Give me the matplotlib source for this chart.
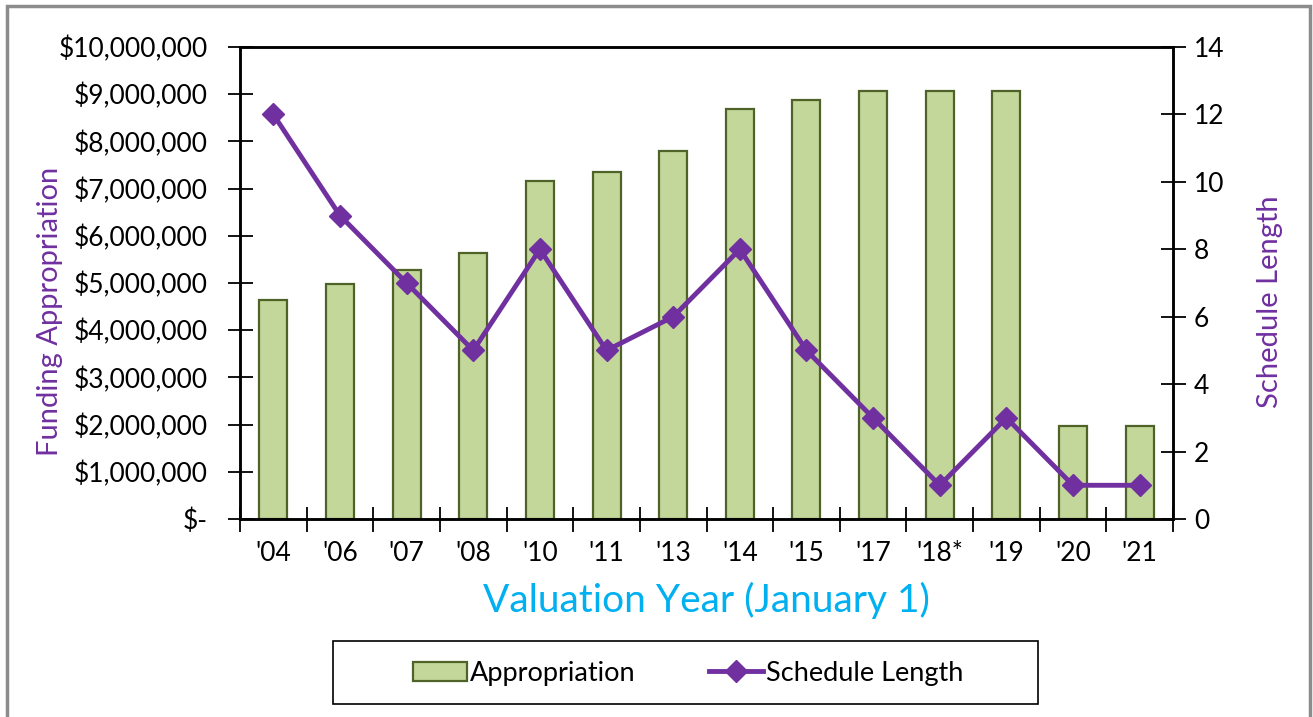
import matplotlib
matplotlib.use("Agg")
import matplotlib.pyplot as plt
from matplotlib.patches import Rectangle
from matplotlib.ticker import FuncFormatter, MultipleLocator

# Data
years = ["'04", "'06", "'07", "'08", "'10", "'11", "'13", "'14", "'15", "'17", "'18*", "'19", "'20", "'21"]
appropriation = [4640000, 4980000, 5270000, 5640000, 7160000, 7350000, 7800000,
                 8690000, 8880000, 9060000, 9060000, 9060000, 1970000, 1970000]
schedule_length = [12, 9, 7, 5, 8, 5, 6, 8, 5, 3, 1, 3, 1, 1]

purple = "#7030A0"
bar_fill = "#C4D79B"
bar_edge = "#4F6228"

plt.rcParams["font.family"] = ["Lato", "DejaVu Sans"]

fig = plt.figure(figsize=(13.13, 7.17), dpi=100)
ax = fig.add_axes([240 / 1313, 1 - 519 / 717, (1173 - 240) / 1313, (519 - 47) / 717])

x = list(range(len(years)))
bars = ax.bar(x, appropriation, width=0.42, color=bar_fill, edgecolor=bar_edge,
              linewidth=1.6, label="Appropriation", zorder=2)
ax.set_xlim(-0.5, len(years) - 0.5)
ax.set_ylim(0, 10000000)
ax.yaxis.set_major_locator(MultipleLocator(1000000))


def money(v, pos):
    if v == 0:
        return "$-"
    return "${:,.0f}".format(v)


ax.yaxis.set_major_formatter(FuncFormatter(money))
ax.set_xticks(x)
ax.set_xticklabels(years)
ax.set_xticks([i + 0.5 for i in range(-1, len(years))], minor=True)
ax.tick_params(axis="x", which="major", length=0, labelsize=19, pad=16)
ax.tick_params(axis="x", which="minor", direction="inout", length=18, width=1.3)
ax.tick_params(axis="y", direction="inout", length=18, width=1.3, labelsize=19, pad=14)
for s in ax.spines.values():
    s.set_linewidth(1.8)

ax.set_ylabel("Funding Appropriation", color=purple, fontsize=21)
ax.yaxis.set_label_coords(-0.19, 0.44)
ax.set_xlabel("Valuation Year (January 1)", color="#00B0F0", fontsize=28, labelpad=11)

ax2 = ax.twinx()
line, = ax2.plot(x, schedule_length, color=purple, linewidth=3.5, marker="D",
                 markersize=11, label="Schedule Length", zorder=3)
ax2.set_ylim(0, 14)
ax2.yaxis.set_major_locator(MultipleLocator(2))
ax2.tick_params(axis="y", direction="inout", length=18, width=1.3, labelsize=19, pad=6)
ax2.set_ylabel("Schedule Length", color=purple, fontsize=21)
ax2.yaxis.set_label_coords(1.09, 0.46)
for s in ax2.spines.values():
    s.set_linewidth(1.8)

# outer frame and legend box
fig.patches.append(Rectangle((7 / 1313, -0.05), 1303 / 1313, 1.05 - 6 / 717,
                             transform=fig.transFigure, fill=False,
                             edgecolor="#8C8C8C", linewidth=2.5))
fig.patches.append(Rectangle((333 / 1313, 1 - 704 / 717), 705 / 1313, 63 / 717,
                             transform=fig.transFigure, fill=False,
                             edgecolor="black", linewidth=1.2))
fig.legend([bars, line], ["Appropriation", "Schedule Length"], loc="center",
           bbox_to_anchor=(688 / 1313, 1 - 673 / 717), ncol=2, frameon=False,
           fontsize=19.5, handlelength=2.0, handletextpad=0.1, columnspacing=2.7)

fig.savefig("out.png", dpi=100)
